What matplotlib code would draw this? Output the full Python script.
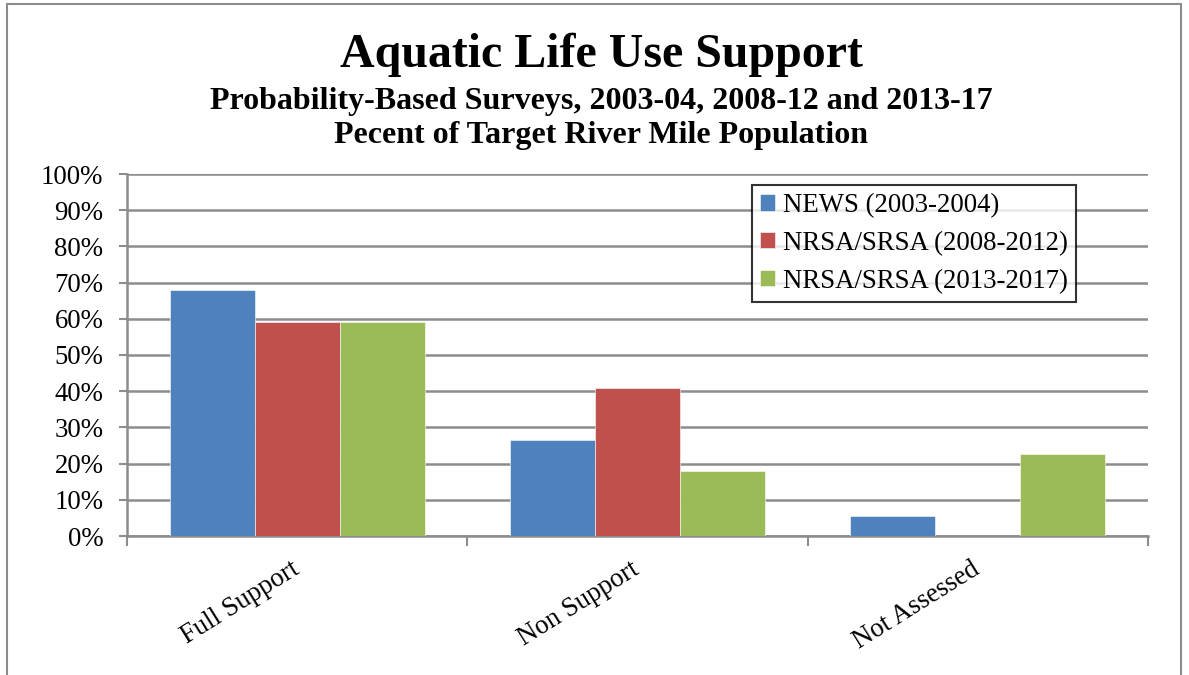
import matplotlib
matplotlib.use("Agg")
import matplotlib.pyplot as plt
import numpy as np
from matplotlib.patches import Rectangle

categories = ["Full Support", "Non Support", "Not Assessed"]
series_names = ["NEWS (2003-2004)", "NRSA/SRSA (2008-2012)", "NRSA/SRSA (2013-2017)"]
news = [68.0, 26.5, 5.5]
nrsa_0812 = [59.0, 41.0, 0.0]
nrsa_1317 = [59.0, 18.0, 22.7]
colors = ["#4F81BD", "#C0504D", "#9BBB59"]
yticks = [0, 10, 20, 30, 40, 50, 60, 70, 80, 90, 100]
ytick_labels = [f"{v}%" for v in yticks]

plt.rcParams['font.family'] = ['Liberation Serif', 'DejaVu Serif']

W, H = 1189, 675
fig = plt.figure(figsize=(W / 100, H / 100), dpi=100)
ax = fig.add_axes([127 / W, 1 - 536 / H, (1148 - 127) / W, (536 - 174) / H])

x = np.arange(len(categories))
bw = 0.25
for i, (vals, name, c) in enumerate(zip([news, nrsa_0812, nrsa_1317], series_names, colors)):
    ax.bar(x + (i - 1) * bw, vals, width=bw, color=c, label=name, zorder=3,
           edgecolor='white', linewidth=0.4)

ax.set_xlim(-0.5, len(categories) - 0.5)
ax.set_ylim(0, 100)
ax.set_yticks(yticks)
ax.set_yticklabels(ytick_labels, fontsize=19.3)
ax.yaxis.grid(True, color='#8C8C8C', linewidth=1.8, zorder=0)
ax.tick_params(axis='y', length=6, width=1.5, color='#8C8C8C', pad=11)

ax.set_xticks(x)
ax.set_xticklabels([])
ax.tick_params(axis='x', which='major', length=0)
ax.set_xticks(np.arange(-0.5, len(categories)), minor=True)
ax.tick_params(axis='x', which='minor', length=7, width=1.5, color='#8C8C8C')
for xi, lab in zip(x, categories):
    ax.annotate(lab, xy=(xi, 0), xycoords=('data', 'axes fraction'),
                xytext=(-5, -15), textcoords='offset points',
                rotation=32, ha='right', va='top', rotation_mode='anchor', fontsize=19.3)

for s in ['top', 'right']:
    ax.spines[s].set_visible(False)
ax.spines['left'].set_color('#8C8C8C')
ax.spines['left'].set_linewidth(1.8)
ax.spines['bottom'].set_color('#8C8C8C')
ax.spines['bottom'].set_linewidth(1.8)

leg = ax.legend(loc='upper left', bbox_to_anchor=(0.612, 0.97), borderaxespad=0,
                fontsize=19.3, frameon=True, fancybox=False, handlelength=0.55,
                handleheight=0.55, handletextpad=0.3, labelspacing=0.48,
                borderpad=0.3)
leg.get_frame().set_edgecolor('black')
leg.get_frame().set_linewidth(1.5)

fig.text(601 / W, 1 - 55 / H, "Aquatic Life Use Support", ha='center', va='center',
         fontsize=34.5, fontweight='bold')
fig.text(601 / W, 1 - 101 / H, "Probability-Based Surveys, 2003-04, 2008-12 and 2013-17",
         ha='center', va='center', fontsize=23, fontweight='bold')
fig.text(601 / W, 1 - 135 / H, "Pecent of Target River Mile Population",
         ha='center', va='center', fontsize=23, fontweight='bold')

fig.patches.append(Rectangle((7 / W, -0.01), (1181 - 7) / W, 1 - 4 / H + 0.01,
                             transform=fig.transFigure, fill=False,
                             edgecolor='#8C8C8C', linewidth=1.5))

fig.savefig("out.png", dpi=100)
